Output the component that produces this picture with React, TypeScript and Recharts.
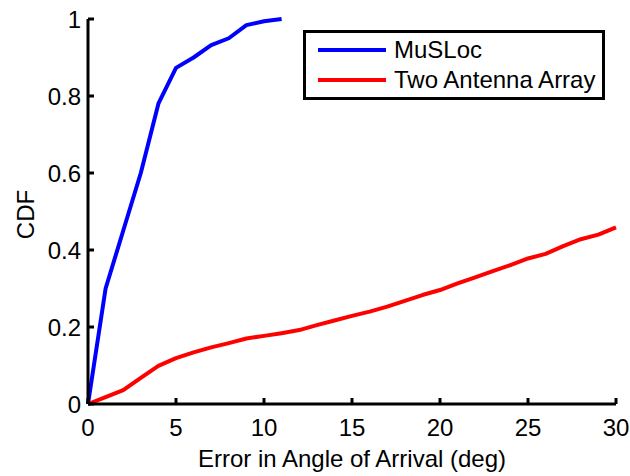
import React from "react";
import { LineChart, Line, XAxis, YAxis, Legend } from "recharts";

const errorDeg = [0, 1, 2, 3, 4, 5, 6, 7, 8, 9, 10, 11, 12, 13, 14, 15, 16, 17, 18, 19, 20, 21, 22, 23, 24, 25, 26, 27, 28, 29, 30];
const muslocCdf = [0, 0.3, 0.45, 0.6, 0.78, 0.873, 0.9, 0.932, 0.95, 0.984, 0.994, 1.0];
const twoAntennaCdf = [0, 0.018, 0.036, 0.068, 0.099, 0.119, 0.134, 0.147, 0.158, 0.17, 0.177, 0.184, 0.192, 0.205, 0.217, 0.229, 0.24, 0.253, 0.268, 0.283, 0.296, 0.313, 0.329, 0.345, 0.361, 0.378, 0.39, 0.41, 0.428, 0.44, 0.459];
const xTicks = [0, 5, 10, 15, 20, 25, 30];
const yTicks = [0, 0.2, 0.4, 0.6, 0.8, 1];
const seriesNames = ["MuSLoc", "Two Antenna Array"];
const xTitle = "Error in Angle of Arrival (deg)";
const yTitle = "CDF";

const data = errorDeg.map((x, i) => ({
  x,
  musloc: i < muslocCdf.length ? muslocCdf[i] : null,
  two: twoAntennaCdf[i],
}));

const FONT = "'Liberation Sans', Arial, Helvetica, sans-serif";
const FS = 24;

const XTick = (props: any) => {
  const { x, y, payload } = props;
  return (
    <g>
      <line x1={x} x2={x} y1={y} y2={y - 6} stroke="#000" strokeWidth={3} />
      <text x={x} y={y + 32} textAnchor="middle" fontFamily={FONT} fontSize={FS} fill="#000">
        {String(payload.value)}
      </text>
    </g>
  );
};

const YTick = (props: any) => {
  const { x, y, payload } = props;
  return (
    <g>
      <line x1={x} x2={x + 6} y1={y} y2={y} stroke="#000" strokeWidth={3} />
      <text x={x - 7} y={y + 8.5} textAnchor="end" fontFamily={FONT} fontSize={FS} fill="#000">
        {String(payload.value)}
      </text>
    </g>
  );
};

const LegendBox = (props: any) => {
  const { payload } = props;
  return (
    <div
      style={{
        boxSizing: "border-box",
        width: 302,
        height: 70,
        border: "3px solid #000",
        background: "#fff",
        paddingTop: 2,
        fontFamily: FONT,
        fontSize: FS,
        color: "#000",
        textAlign: "left",
      }}
    >
      {(payload || []).map((entry: any) => (
        <div key={entry.value} style={{ display: "flex", alignItems: "center", height: 30, paddingLeft: 12 }}>
          <div style={{ width: 68, height: 4, background: entry.color, marginRight: 8 }} />
          <span style={{ lineHeight: "30px" }}>{entry.value}</span>
        </div>
      ))}
    </div>
  );
};

export default function App() {
  return (
    <div style={{ position: "absolute", left: 0, top: 0, width: 630, height: 476, background: "#fff" }}>
      <LineChart width={630} height={476} data={data} margin={{ top: 19, right: 14, bottom: 0, left: 0 }}>
        <XAxis
          dataKey="x"
          type="number"
          domain={[0, 30]}
          ticks={xTicks}
          height={72}
          tickSize={0}
          tickMargin={0}
          tickLine={false}
          axisLine={{ stroke: "#000", strokeWidth: 3 }}
          tick={<XTick />}
          interval={0}
          label={{
            content: (p: any) => {
              const vb = p.viewBox || { x: 88, y: 404, width: 528 };
              return (
                <text x={vb.x + vb.width / 2} y={vb.y + 63} textAnchor="middle" fontFamily={FONT} fontSize={FS} fill="#000">
                  {xTitle}
                </text>
              );
            },
          }}
        />
        <YAxis
          type="number"
          domain={[0, 1]}
          ticks={yTicks}
          width={88}
          tickSize={0}
          tickMargin={0}
          tickLine={false}
          axisLine={{ stroke: "#000", strokeWidth: 3 }}
          tick={<YTick />}
          interval={0}
          label={{
            content: (p: any) => {
              const vb = p.viewBox || { x: 0, y: 19, height: 385 };
              const cx = vb.x + 25;
              const cy = vb.y + vb.height / 2 + 3;
              return (
                <text
                  x={cx}
                  y={cy}
                  textAnchor="middle"
                  dominantBaseline="central"
                  transform={`rotate(-90, ${cx}, ${cy})`}
                  fontFamily={FONT}
                  fontSize={FS}
                  fill="#000"
                >
                  {yTitle}
                </text>
              );
            },
          }}
        />
        <Legend
          layout="horizontal"
          verticalAlign="middle"
          align="center"
          content={<LegendBox />}
          wrapperStyle={{ left: 303, top: 30, width: 302, height: 70 }}
        />
        <Line
          type="linear"
          dataKey="musloc"
          name={seriesNames[0]}
          stroke="#0000ff"
          strokeWidth={4}
          strokeLinejoin="round"
          dot={false}
          isAnimationActive={false}
        />
        <Line
          type="linear"
          dataKey="two"
          name={seriesNames[1]}
          stroke="#ff0000"
          strokeWidth={4}
          strokeLinejoin="round"
          dot={false}
          isAnimationActive={false}
        />
      </LineChart>
    </div>
  );
}
